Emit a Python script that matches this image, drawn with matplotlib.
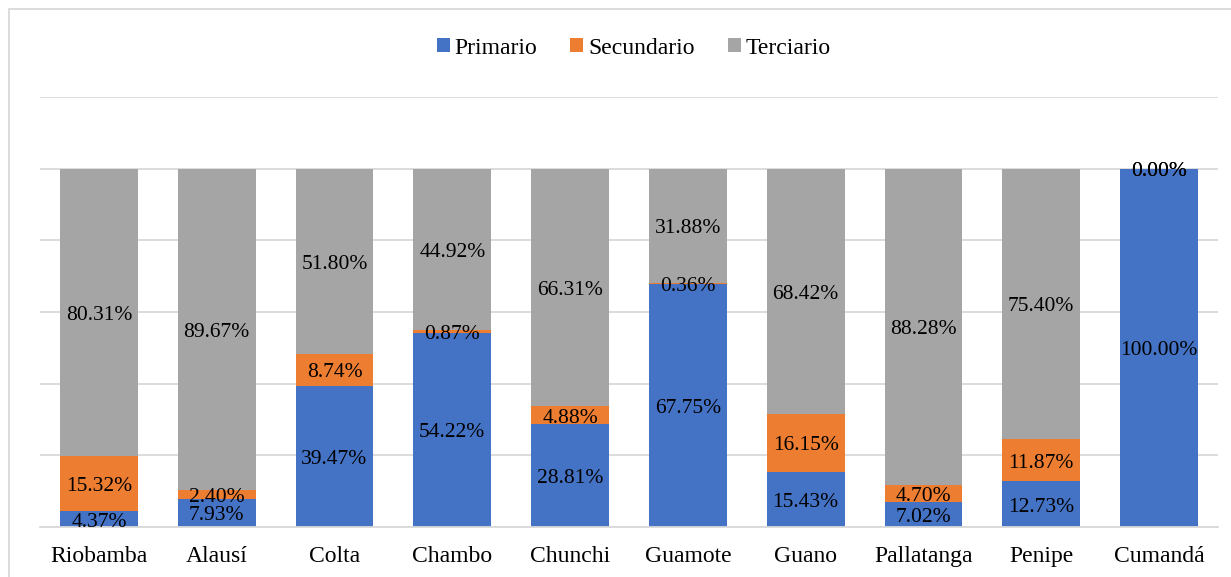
import matplotlib.pyplot as plt
from matplotlib.patches import Rectangle
import numpy as np

plt.rcParams['font.family'] = ['Liberation Serif', 'DejaVu Serif']

# Data (percent)
cantones = ["Riobamba", "Alausí", "Colta", "Chambo", "Chunchi",
            "Guamote", "Guano", "Pallatanga", "Penipe", "Cumandá"]
primario = [4.37, 7.93, 39.47, 54.22, 28.81, 67.75, 15.43, 7.02, 12.73, 100.00]
secundario = [15.32, 2.40, 8.74, 0.87, 4.88, 0.36, 16.15, 4.70, 11.87, 0.00]
terciario = [80.31, 89.67, 51.80, 44.92, 66.31, 31.88, 68.42, 88.28, 75.40, 0.00]

colors = ["#4472C4", "#ED7D31", "#A5A5A5"]

fig = plt.figure(figsize=(12.31, 5.77), dpi=100)
ax = fig.add_axes([40 / 1231, 1 - 527 / 577, (1218 - 40) / 1231, (527 - 97) / 577])

x = np.arange(len(cantones))
w = 0.66
p = np.array(primario)
s = np.array(secundario)
t = np.array(terciario)

b1 = ax.bar(x, p, w, color=colors[0], label="Primario")
b2 = ax.bar(x, s, w, bottom=p, color=colors[1], label="Secundario")
b3 = ax.bar(x, t, w, bottom=p + s, color=colors[2], label="Terciario")

for bars, vals in [(b1, primario), (b2, secundario), (b3, terciario)]:
    txts = ax.bar_label(bars, labels=[f"{v:.2f}%" for v in vals], label_type="center",
                        fontsize=15.5, color="black")
    for tx in txts:
        tx.xyann = (0, -2.2)  # nudge down a little, like the original

ax.set_xlim(-0.5, len(cantones) - 0.5)
ax.set_ylim(0, 120)
ax.set_yticks(np.arange(0, 121, 20))
ax.yaxis.grid(True, color="#D9D9D9", linewidth=1.3)
ax.set_axisbelow(True)
ax.tick_params(axis="y", left=False, labelleft=False)
ax.set_xticks(x)
ax.set_xticklabels(cantones, fontsize=17)
ax.tick_params(axis="x", length=0, pad=14)
for sp in ["top", "right", "left"]:
    ax.spines[sp].set_visible(False)
ax.spines["bottom"].set_color("#D9D9D9")
ax.spines["bottom"].set_linewidth(1.3)

ax.legend(loc="center", bbox_to_anchor=(0.504, (527 - 48) / (527 - 97)),
          ncol=3, frameon=False, fontsize=17, handlelength=0.55, handleheight=0.55,
          handletextpad=0.2, columnspacing=1.4)

# chart border (cropped at right and bottom)
fig.patches.append(Rectangle((9 / 1231, -0.1), 1.2, 1.1 - 9 / 577,
                             transform=fig.transFigure, fill=False,
                             edgecolor="#D9D9D9", linewidth=1.3))

fig.savefig("out.png", dpi=100)
